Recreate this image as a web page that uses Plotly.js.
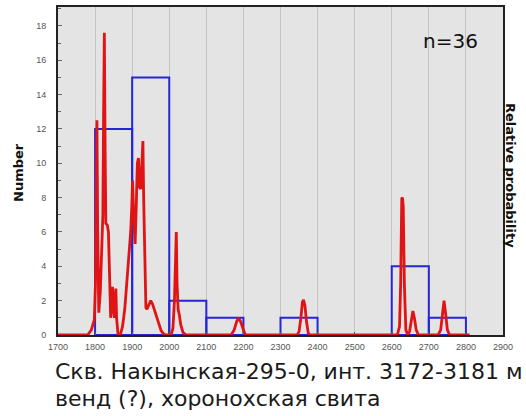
<!DOCTYPE html>
<html><head><meta charset="utf-8">
<script src="https://cdn.plot.ly/plotly-3.0.1.min.js"></script>
<style>html,body{margin:0;padding:0;background:#fff}#chart{width:526px;height:416px}</style>
</head><body><div id="chart"></div>
<script>
// Histogram bins (start year) and counts
const binStarts = [1800, 1900, 2000, 2100, 2300, 2600, 2700];
const binCounts = [12, 15, 2, 1, 1, 4, 1];
const binWidth = 100;

// Relative probability curve
const probX = [1700,1780,1790,1798,1801,1803,1805,1807,1810,1814,1818,1821,1823,1825,1827,1829,1833,1836,1839,1842,1845,1847,1849,1852,1854,1856,1858,1860,1862,1868,1874,1880,1886,1891,1896,1899,1901,1904,1908,1911,1914,1917,1920,1923,1926,1929,1931,1934,1937,1940,1945,1950,1955,1962,1970,1978,1985,1992,2005,2010,2014,2017,2019,2021,2024,2027,2031,2037,2045,2167,2175,2182,2187,2192,2199,2205,2345,2350,2355,2359,2362,2366,2370,2375,2380,2615,2621,2624,2627,2629,2631,2634,2638,2643,2648,2653,2657,2661,2666,2672,2725,2732,2737,2741,2745,2750,2756,2810];
const probY = [0,0,0.3,0.9,3,9,12.5,6,1.3,2.5,5.5,7,13,17.6,11,6.5,6.4,6,3.5,1,2.3,2.8,1.5,1,2.2,2.7,1,0.2,0,0,0.5,1.5,3,4.5,6,7.5,9,7,5.3,7.5,10,10.3,8.6,8.5,10.5,11.3,8,3.5,1.6,1.5,1.8,2,1.8,1.3,0.7,0.25,0.05,0,0,0.4,2,5,6,3,1.5,1.2,0.6,0.15,0,0,0.3,0.8,1.0,0.8,0.3,0,0,0.2,1,1.9,2.05,1.7,0.8,0.1,0,0,0.5,3,7.95,8,7.5,3,0.3,0,0.2,0.9,1.4,1.0,0.3,0,0,0.3,1.3,2.0,1.3,0.3,0,0];

const xTicks = [1700,1800,1900,2000,2100,2200,2300,2400,2500,2600,2700,2800,2900];
const yTicks = [0,2,4,6,8,10,12,14,16,18];

const traces = [
  {type:'bar', x: binStarts, y: binCounts, width: binWidth, offset: 0,
   marker:{color:'rgba(0,0,0,0)', line:{color:'#2626d8', width:2}},
   hoverinfo:'skip', showlegend:false},
  {type:'scatter', mode:'lines', x: probX, y: probY,
   line:{color:'#e01414', width:2.8, shape:'linear'}, showlegend:false}
];

const tickFont = {family:'Liberation Sans Narrow, Liberation Sans, Arial, sans-serif', size:9, color:'#555'};
const layout = {
  width:526, height:416,
  margin:{l:58, r:23, t:7, b:81},
  paper_bgcolor:'#ffffff', plot_bgcolor:'#e4e4e4',
  bargap:0,
  xaxis:{range:[1700,2900], tickvals:xTicks, ticktext:xTicks.map(String),
    showgrid:true, gridcolor:'#c4c4c4', gridwidth:1, zeroline:false,
    showline:true, mirror:true, linecolor:'#222', linewidth:2,
    ticks:'inside', ticklen:3, tickcolor:'#555', tickfont:tickFont, ticklabelstandoff:2},
  yaxis:{range:[0,19.1], tickvals:yTicks, ticktext:yTicks.map(String),
    showgrid:false, zeroline:false,
    showline:true, mirror:true, linecolor:'#222', linewidth:2,
    ticks:'inside', ticklen:4, tickcolor:'#666', tickfont:tickFont, ticklabelstandoff:8,
    minor:{dtick:1, ticks:'inside', ticklen:3, tickcolor:'#666'}},
  annotations:[
    {text:'Number', textangle:-90, x:18, y:173, xanchor:'center', yanchor:'middle', showarrow:false,
     font:{family:'DejaVu Sans, sans-serif', size:13, color:'#111', weight:'bold'}},
    {text:'Relative probability', textangle:90, x:511, y:175, xanchor:'center', yanchor:'middle', showarrow:false,
     font:{family:'DejaVu Sans, sans-serif', size:13, color:'#111', weight:'bold'}},
    {text:'n=36', x:450, y:41, xanchor:'center', yanchor:'middle', showarrow:false,
     font:{family:'DejaVu Sans, sans-serif', size:20, color:'#111'}},
    {text:'Скв. Накынская-295-0, инт. 3172-3181 м', x:53, y:371, xanchor:'left', yanchor:'middle', showarrow:false,
     font:{family:'DejaVu Sans, sans-serif', size:22, color:'#1a1a1a'}},
    {text:'венд (?), хоронохская свита', x:53, y:398, xanchor:'left', yanchor:'middle', showarrow:false,
     font:{family:'DejaVu Sans, sans-serif', size:22, color:'#1a1a1a'}}
  ]
};
// convert pixel-positioned annotations to paper coordinates
const pw = 526 - 58 - 23, ph = 416 - 7 - 81;
layout.annotations.forEach(a => {
  a.xref = 'paper'; a.yref = 'paper';
  a.x = (a.x - 58) / pw; a.y = (416 - 81 - a.y) / ph;
});
Plotly.newPlot('chart', traces, layout, {displayModeBar:false, staticPlot:true});
</script></body></html>
